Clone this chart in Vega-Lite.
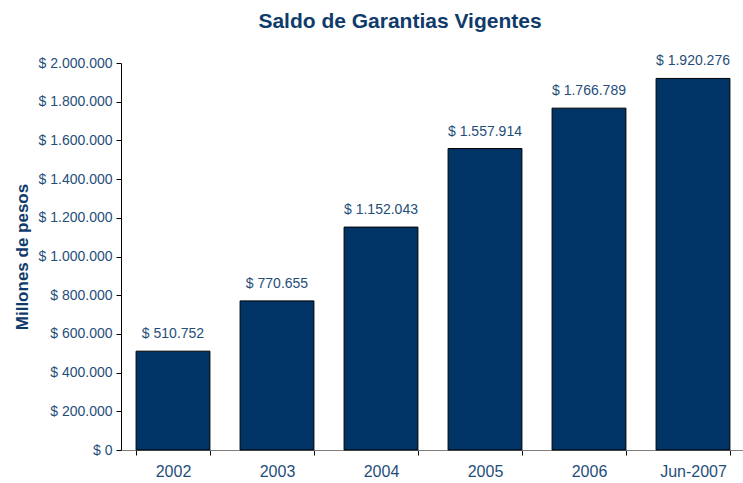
{
  "$schema": "https://vega.github.io/schema/vega-lite/v6.json",
  "width": 624,
  "height": 387,
  "autosize": "none",
  "padding": {"left": 121, "top": 63, "right": 0, "bottom": 33},
  "background": "white",
  "config": {
    "locale": {"number": {"decimal": ",", "thousands": ".", "grouping": [3], "currency": ["$ ", ""]}},
    "view": {"stroke": null},
    "font": "Liberation Sans"
  },
  "title": {
    "text": "Saldo de Garantias Vigentes",
    "fontSize": 21,
    "fontWeight": "bold",
    "color": "#0F3B6B",
    "anchor": "middle",
    "dx": -33,
    "offset": 22
  },
  "data": {
    "values": [
      {"periodo": "2002", "saldo": 510752},
      {"periodo": "2003", "saldo": 770655},
      {"periodo": "2004", "saldo": 1152043},
      {"periodo": "2005", "saldo": 1557914},
      {"periodo": "2006", "saldo": 1766789},
      {"periodo": "Jun-2007", "saldo": 1920276}
    ]
  },
  "encoding": {
    "x": {
      "field": "periodo",
      "type": "nominal",
      "sort": null,
      "scale": {"paddingInner": 0.29, "paddingOuter": 0.145},
      "axis": {
        "title": null,
        "labelAngle": 0,
        "labelFontSize": 16,
        "labelColor": "#1F4E79",
        "labelPadding": 8,
        "tickBand": "extent",
        "tickSize": 5,
        "tickColor": "#000000",
        "domainColor": "#808080",
        "domainWidth": 1
      }
    },
    "y": {
      "field": "saldo",
      "type": "quantitative",
      "scale": {"domain": [0, 2000000], "nice": false},
      "axis": {
        "title": "Millones de pesos",
        "titleFontSize": 17,
        "titleFontWeight": "bold",
        "titleColor": "#0F3B6B",
        "titlePadding": 7,
        "values": [0, 200000, 400000, 600000, 800000, 1000000, 1200000, 1400000, 1600000, 1800000, 2000000],
        "format": "$,.0f",
        "labelFontSize": 14,
        "labelColor": "#1F4E79",
        "labelPadding": 4,
        "tickSize": 5,
        "tickColor": "#000000",
        "domainColor": "#000000",
        "grid": false
      }
    }
  },
  "layer": [
    {
      "mark": {"type": "bar", "color": "#003366", "stroke": "#000000", "strokeWidth": 1}
    },
    {
      "mark": {"type": "text", "baseline": "alphabetic", "dy": -13, "fontSize": 14, "color": "#1F4E79"},
      "encoding": {
        "text": {"field": "saldo", "type": "quantitative", "format": "$,.0f"}
      }
    }
  ]
}
